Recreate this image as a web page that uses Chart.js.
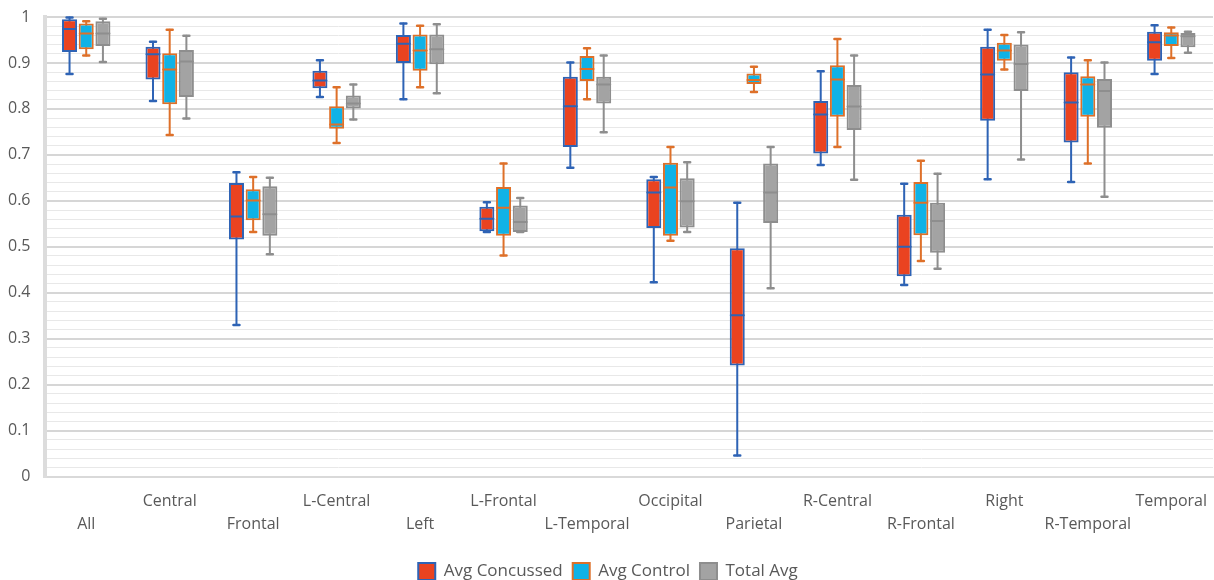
<!DOCTYPE html>
<html>
<head>
<meta charset="utf-8">
<script src="https://cdn.jsdelivr.net/npm/chart.js@4/dist/chart.umd.min.js"></script>
<style>
  html, body { margin: 0; padding: 0; background: #ffffff; }
  #wrap { width: 1214px; height: 580px; position: relative; }
</style>
</head>
<body>
<div id="wrap"><canvas id="chart"></canvas></div>
<script>
// Regions measured
const categories = ['All', 'Central', 'Frontal', 'L-Central', 'Left', 'L-Frontal', 'L-Temporal',
  'Occipital', 'Parietal', 'R-Central', 'R-Frontal', 'Right', 'R-Temporal', 'Temporal'];

// Avg Concussed: five-number summaries per region
const concussedMin    = [0.876, 0.817, 0.330, 0.826, 0.821, 0.532, 0.672, 0.423, 0.046, 0.678, 0.417, 0.647, 0.641, 0.876];
const concussedQ1     = [0.924, 0.864, 0.516, 0.845, 0.900, 0.534, 0.717, 0.541, 0.242, 0.703, 0.436, 0.774, 0.727, 0.905];
const concussedMedian = [0.974, 0.919, 0.566, 0.862, 0.942, 0.561, 0.806, 0.618, 0.351, 0.788, 0.500, 0.875, 0.814, 0.945];
const concussedQ3     = [0.995, 0.935, 0.639, 0.883, 0.961, 0.587, 0.870, 0.647, 0.497, 0.817, 0.570, 0.935, 0.880, 0.968];
const concussedMax    = [0.999, 0.946, 0.662, 0.906, 0.986, 0.597, 0.901, 0.652, 0.596, 0.882, 0.637, 0.972, 0.912, 0.982];

// Avg Control
const controlMin    = [0.916, 0.743, 0.532, 0.726, 0.847, 0.481, 0.821, 0.513, 0.837, 0.717, 0.469, 0.886, 0.681, 0.911];
const controlQ1     = [0.930, 0.810, 0.558, 0.757, 0.883, 0.524, 0.861, 0.524, 0.854, 0.783, 0.525, 0.905, 0.783, 0.937];
const controlMedian = [0.964, 0.886, 0.601, 0.766, 0.927, 0.585, 0.887, 0.629, 0.863, 0.864, 0.596, 0.927, 0.853, 0.960];
const controlQ3     = [0.986, 0.921, 0.625, 0.806, 0.962, 0.630, 0.915, 0.683, 0.877, 0.895, 0.641, 0.944, 0.871, 0.967];
const controlMax    = [0.991, 0.972, 0.652, 0.847, 0.981, 0.681, 0.932, 0.717, 0.892, 0.952, 0.687, 0.961, 0.906, 0.977];

// Total Avg
const totalMin    = [0.902, 0.779, 0.484, 0.777, 0.834, 0.532, 0.749, 0.532, 0.410, 0.646, 0.452, 0.690, 0.609, 0.922];
const totalQ1     = [0.937, 0.826, 0.524, 0.801, 0.897, 0.532, 0.812, 0.542, 0.552, 0.754, 0.487, 0.839, 0.759, 0.934];
const totalMedian = [0.964, 0.903, 0.571, 0.812, 0.930, 0.554, 0.853, 0.599, 0.618, 0.805, 0.556, 0.898, 0.839, 0.958];
const totalQ3     = [0.991, 0.928, 0.632, 0.829, 0.962, 0.590, 0.870, 0.649, 0.681, 0.852, 0.596, 0.940, 0.865, 0.965];
const totalMax    = [0.996, 0.959, 0.650, 0.853, 0.984, 0.606, 0.916, 0.684, 0.717, 0.916, 0.659, 0.967, 0.901, 0.968];

const FONT = "'Open Sans', 'Noto Sans', sans-serif";
const TEXT = '#595959';
const CLEAR = 'rgba(0,0,0,0)';

// Whisker ends and medians for each series, in dataset order
const whiskerStats = [
  { min: concussedMin, median: concussedMedian, max: concussedMax, color: '#2E63B5' },
  { min: controlMin, median: controlMedian, max: controlMax, color: '#DE7029' },
  { min: totalMin, median: totalMedian, max: totalMax, color: '#8E8E8E' }
];

function boxSeries(label, fill, stroke, q1, q3) {
  return {
    label,
    data: q1.map((v, i) => [v, q3[i]]),
    backgroundColor: fill,
    borderColor: stroke,
    borderWidth: 2,
    borderSkipped: false
  };
}

function drawParts(chart, medians) {
  const ctx = chart.ctx;
  const y = chart.scales.y;
  whiskerStats.forEach((st, di) => {
    const meta = chart.getDatasetMeta(di);
    if (!meta || meta.hidden) return;
    meta.data.forEach((bar, i) => {
      const p = bar.getProps(['x', 'width'], true);
      const x = p.x;
      const half = p.width / 2;
      ctx.save();
      ctx.strokeStyle = st.color;
      ctx.lineCap = 'round';
      if (medians) {
        const ym = y.getPixelForValue(st.median[i]);
        ctx.lineWidth = 2;
        ctx.beginPath();
        ctx.moveTo(x - half + 1, ym);
        ctx.lineTo(x + half - 1, ym);
        ctx.stroke();
      } else {
        const yMax = y.getPixelForValue(st.max[i]);
        const yMin = y.getPixelForValue(st.min[i]);
        const yMid = y.getPixelForValue(st.median[i]);
        ctx.lineWidth = 2;
        ctx.beginPath();
        ctx.moveTo(x, yMax); ctx.lineTo(x, yMid);
        ctx.moveTo(x, yMid); ctx.lineTo(x, yMin);
        ctx.stroke();
        ctx.lineWidth = 2.5;
        ctx.beginPath();
        ctx.moveTo(x - 3, yMax); ctx.lineTo(x + 3, yMax);
        ctx.moveTo(x - 3, yMin); ctx.lineTo(x + 3, yMin);
        ctx.stroke();
      }
      ctx.restore();
    });
  });
}

// Whiskers go under the boxes, medians on top of them
const whiskerPlugin = {
  id: 'whiskers',
  beforeDatasetsDraw(chart) { drawParts(chart, false); },
  afterDatasetsDraw(chart) { drawParts(chart, true); }
};

const isMajor = v => Math.round(v * 50) % 5 === 0;

new Chart(document.getElementById('chart'), {
  type: 'bar',
  data: {
    labels: categories,
    datasets: [
      boxSeries('Avg Concussed', '#EA4320', '#2E63B5', concussedQ1, concussedQ3),
      boxSeries('Avg Control', '#10B2E6', '#DE7029', controlQ1, controlQ3),
      boxSeries('Total Avg', '#A3A3A3', '#8E8E8E', totalQ1, totalQ3)
    ]
  },
  options: {
    responsive: true,
    maintainAspectRatio: false,
    animation: false,
    layout: { padding: { top: 17, right: 1, left: 3, bottom: -10 } },
    datasets: { bar: { categoryPercentage: 0.6, barPercentage: 0.9 } },
    plugins: {
      tooltip: { enabled: false },
      legend: {
        position: 'bottom',
        labels: {
          color: TEXT,
          font: { family: FONT, size: 17 },
          boxWidth: 17,
          boxHeight: 17,
          padding: 10
        }
      }
    },
    scales: {
      x: {
        grid: { display: true, drawOnChartArea: false, drawTicks: true, tickLength: 13, color: CLEAR, tickColor: CLEAR },
        border: { display: true, color: '#d9d9d9', width: 2 },
        title: { display: true, text: ' ', font: { size: 2.5 }, padding: { top: 14, bottom: 0 } },
        ticks: {
          color: TEXT,
          font: { family: FONT, size: 16, lineHeight: 1.45 },
          padding: 0,
          autoSkip: false,
          maxRotation: 0,
          minRotation: 0,
          callback: function (value, index) {
            const name = this.getLabelForValue(value);
            return index % 2 === 1 ? [name, ''] : ['', name];
          }
        }
      },
      y: {
        min: 0,
        max: 1,
        grid: {
          drawTicks: true,
          tickLength: 9,
          tickColor: CLEAR,
          color: ctx => isMajor(ctx.tick.value) ? '#d6d6d6' : '#e8e8e8',
          lineWidth: ctx => isMajor(ctx.tick.value) ? 2 : 1
        },
        border: { display: true, color: '#dcdcdc', width: 4 },
        ticks: {
          stepSize: 0.02,
          autoSkip: false,
          color: TEXT,
          padding: 5,
          font: { family: FONT, size: 16 },
          callback: v => isMajor(v) ? String(Math.round(v * 10) / 10) : ''
        }
      }
    }
  },
  plugins: [whiskerPlugin]
});
</script>
</body>
</html>
